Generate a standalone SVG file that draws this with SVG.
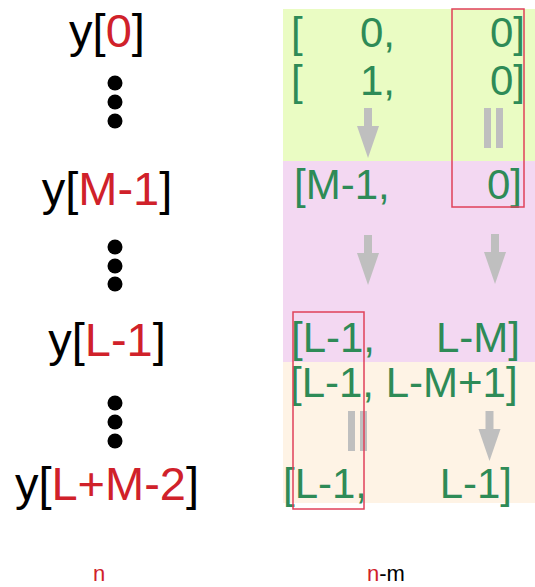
<svg xmlns="http://www.w3.org/2000/svg" width="535" height="587" viewBox="0 0 535 587">
<style>
.lbl{font-family:"Liberation Sans",Arial,sans-serif;font-size:47px;fill:#000;text-anchor:middle}
.g{font-family:"Liberation Sans",Arial,sans-serif;font-size:42px;fill:#2e8b57}
.e{text-anchor:end}
.dot{fill:#000}
.gray{fill:#bfbfbf}
.hl{fill:none;stroke:#e0405a;stroke-width:1.5}
.axis{font-family:"Liberation Sans",Arial,sans-serif;font-size:22px;fill:#000;text-anchor:middle}
.r{fill:#d0212a}
</style>
<defs>
<g id="arrowDown"><rect x="-4" y="0" width="8" height="19" class="gray"/><polygon points="-11,18 11,18 0,50" class="gray"/></g>
<g id="eqV"><rect x="-9.5" y="0" width="7" height="40" class="gray"/><rect x="2.5" y="0" width="7" height="40" class="gray"/></g>
</defs>

<g id="bands">
<rect x="283" y="9" width="252" height="152" fill="#eafcc3"/>
<rect x="283" y="161" width="252" height="201" fill="#f3d8f2"/>
<rect x="283" y="362" width="252" height="141" fill="#fef3e5"/>
</g>

<g id="y0"><text class="lbl" x="107" y="47">y[<tspan class="r">0</tspan>]</text></g>
<g id="dots1"><circle class="dot" cx="115" cy="83" r="7.5"/><circle class="dot" cx="115" cy="102" r="7.5"/><circle class="dot" cx="115" cy="121" r="7.5"/></g>
<g id="yM1"><text class="lbl" x="107" y="205">y[<tspan class="r">M-1</tspan>]</text></g>
<g id="dots2"><circle class="dot" cx="115" cy="247" r="7.5"/><circle class="dot" cx="115" cy="266" r="7.5"/><circle class="dot" cx="115" cy="284" r="7.5"/></g>
<g id="yL1"><text class="lbl" x="107" y="356">y[<tspan class="r">L-1</tspan>]</text></g>
<g id="dots3"><circle class="dot" cx="115" cy="403" r="7.5"/><circle class="dot" cx="115" cy="422" r="7.5"/><circle class="dot" cx="115" cy="441" r="7.5"/></g>
<g id="yLM2"><text class="lbl" x="107" y="500">y[<tspan class="r">L+M-2</tspan>]</text></g>

<g id="row0">
<text class="g" x="291" y="47">[</text><text class="g e" x="395" y="47">0,</text><text class="g e" x="525" y="47">0]</text>
</g>
<g id="row1">
<text class="g" x="291" y="95">[</text><text class="g e" x="395" y="95">1,</text><text class="g e" x="525" y="95">0]</text>
</g>
<g id="rowM1">
<text class="g" x="294" y="199">[M-1,</text><text class="g e" x="522" y="199">0]</text>
</g>
<g id="rowL1">
<text class="g" x="291" y="352">[L-1,</text><text class="g e" x="520" y="352">L-M]</text>
</g>
<g id="rowL1b">
<text class="g" x="290" y="397">[L-1, L-M+1]</text>
</g>
<g id="rowL1c">
<text class="g" x="283" y="498">[L-1,</text><text class="g e" x="512" y="498">L-1]</text>
</g>

<g id="connectors">
<use href="#arrowDown" x="368" y="108"/>
<use href="#eqV" x="493.5" y="108"/>
<use href="#arrowDown" x="368" y="235"/>
<use href="#arrowDown" x="495" y="234"/>
<use href="#eqV" x="357.5" y="411"/>
<use href="#arrowDown" x="489.5" y="411"/>
</g>

<g id="highlights">
<rect class="hl" x="452" y="9" width="72" height="198"/>
<rect class="hl" x="293" y="312" width="71" height="197"/>
</g>

<g id="axisN"><text class="axis r" x="99" y="581">n</text></g>
<g id="axisNM"><text class="axis" x="386" y="581"><tspan class="r">n</tspan>-m</text></g>
</svg>
